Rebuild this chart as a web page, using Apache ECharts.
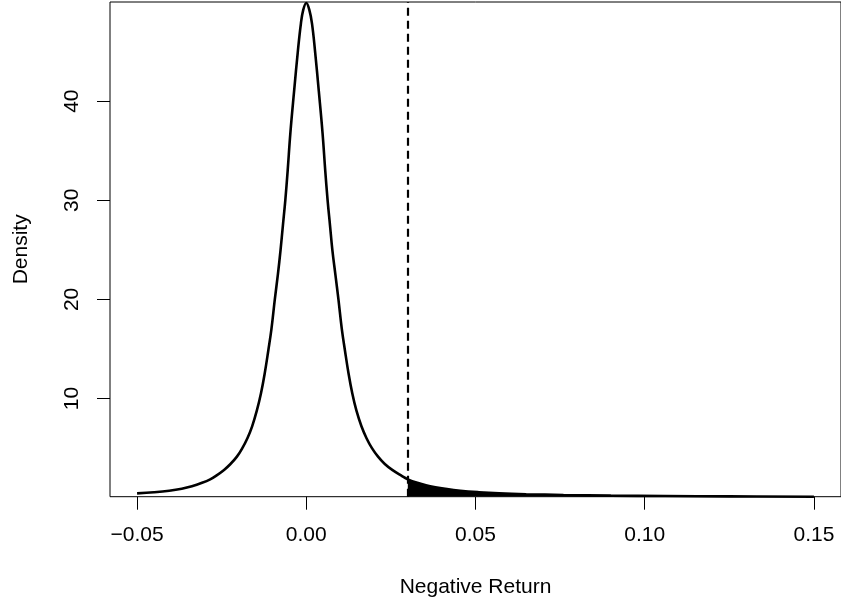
<!DOCTYPE html>
<html>
<head>
<meta charset="utf-8">
<script src="https://cdn.jsdelivr.net/npm/echarts@6/dist/echarts.min.js"></script>
<style>
  html, body { margin: 0; padding: 0; background: #fff; }
  #chart { width: 841px; height: 603px; }
</style>
</head>
<body>
<div id="chart"></div>
<script>
// density curve
var returnX = [-0.050, -0.045, -0.0405, -0.0368, -0.0338, -0.0308, -0.0284, -0.0267, -0.0243, -0.0224,
  -0.0205, -0.0189, -0.0174, -0.0160, -0.0146, -0.0134, -0.0123, -0.0112, -0.0103, -0.0093,
  -0.0084, -0.0076, -0.0069, -0.0062, -0.0055, -0.0047, -0.0036, -0.0025, -0.0016, -0.0009,
  0,
  0.0009, 0.0017, 0.0026, 0.0037, 0.0048, 0.0056, 0.0063, 0.0070, 0.0077, 0.0086,
  0.0095, 0.0105, 0.0114, 0.0125, 0.0136, 0.0148, 0.0163, 0.0178, 0.0194, 0.0212,
  0.0232, 0.0254, 0.0282, 0.030, 0.0328, 0.0366, 0.041, 0.0455, 0.051, 0.057,
  0.065, 0.076, 0.090, 0.106, 0.125, 0.150];
var densityY = [0.44, 0.55, 0.70, 0.90, 1.15, 1.5, 1.85, 2.2, 2.8, 3.4,
  4.14, 5.0, 6.0, 7.2, 8.8, 10.5, 12.5, 14.9, 17.0, 20.0,
  22.5, 25.0, 27.5, 30.0, 33.0, 36.8, 41.0, 45.0, 47.8, 49.2,
  49.9,
  49.2, 47.8, 45.0, 41.0, 36.8, 33.0, 30.0, 27.5, 25.0, 22.5,
  20.0, 17.0, 14.9, 12.5, 10.5, 8.8, 7.2, 6.0, 5.0, 4.14,
  3.4, 2.8, 2.2, 1.85, 1.5, 1.15, 0.90, 0.70, 0.55, 0.44,
  0.35, 0.27, 0.21, 0.17, 0.13, 0.10];
var cutoff = 0.03; // dashed line, tail shaded beyond it

var xTicks = [-0.05, 0, 0.05, 0.10, 0.15];
var xTickLabels = ['\u22120.05', '0.00', '0.05', '0.10', '0.15'];
var yTicks = [10, 20, 30, 40];
var yTickLabels = ['10', '20', '30', '40'];

var curve = returnX.map(function (x, i) { return [x, densityY[i]]; });
var tail = curve.filter(function (p) { return p[0] >= cutoff; });

var font = 'Liberation Sans, Arial, Helvetica, sans-serif';

var chart = echarts.init(document.getElementById('chart'));
chart.setOption({
  animation: false,
  backgroundColor: '#fff',
  grid: {
    left: 110, top: 2, width: 734.4, height: 494.7,
    show: true, borderColor: '#000', borderWidth: 1, backgroundColor: 'transparent'
  },
  xAxis: {
    type: 'value', min: -0.058, max: 0.158,
    name: 'Negative Return', nameLocation: 'middle', nameGap: 80,
    nameTextStyle: { color: '#000', fontSize: 21, fontFamily: font },
    axisLine: { show: false, onZero: false },
    splitLine: { show: false },
    axisTick: { show: true, length: 13, inside: false, customValues: xTicks,
      lineStyle: { color: '#000', width: 1 } },
    axisLabel: { customValues: xTicks, margin: 28, color: '#000', fontSize: 21, fontFamily: font,
      formatter: function (v) { return xTickLabels[xTicks.indexOf(v)]; } }
  },
  yAxis: {
    type: 'value', min: 0.1, max: 50.0,
    name: 'Density', nameLocation: 'middle', nameGap: 78, nameRotate: 90,
    nameTextStyle: { color: '#000', fontSize: 21, fontFamily: font },
    axisLine: { show: false, onZero: false },
    splitLine: { show: false },
    axisTick: { show: true, length: 13, inside: false, customValues: yTicks,
      lineStyle: { color: '#000', width: 1 } },
    axisLabel: { customValues: yTicks, margin: 27, rotate: 90, color: '#000', fontSize: 21, fontFamily: font,
      formatter: function (v) { return yTickLabels[yTicks.indexOf(v)]; } }
  },
  series: [
    {
      type: 'line', data: tail, smooth: 0.4, symbol: 'none',
      lineStyle: { width: 0 },
      areaStyle: { color: '#000', opacity: 1 },
      z: 2
    },
    {
      type: 'line', data: curve, smooth: 0.4, symbol: 'none',
      lineStyle: { color: '#000', width: 2.6 },
      z: 3,
      markLine: {
        silent: true, symbol: 'none', label: { show: false },
        lineStyle: { color: '#000', type: [8, 5], width: 2.2 },
        data: [{ xAxis: cutoff }]
      }
    }
  ]
});
</script>
</body>
</html>
